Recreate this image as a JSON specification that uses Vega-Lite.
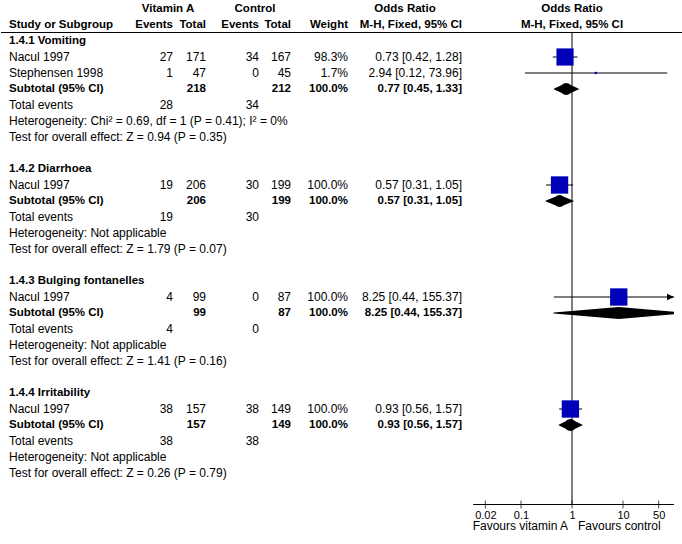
{
  "$schema": "https://vega.github.io/schema/vega-lite/v6.json",
  "background": "white",
  "padding": 0,
  "autosize": "pad",
  "bounds": "flush",
  "spacing": 0,
  "config": {
    "font": "Liberation Sans",
    "view": {"stroke": null},
    "text": {"fontSize": 12, "color": "black"},
    "rule": {"color": "black", "strokeWidth": 1}
  },
  "datasets": {
    "rows": [
      {"r": 1, "s": "Study or Subgroup", "ve": "Events", "vt": "Total", "ce": "Events", "ct": "Total", "w": "Weight", "o": "M-H, Fixed, 95% CI", "b": 1, "kind": "head"},
      {"r": 2, "s": "1.4.1 Vomiting", "b": 1, "kind": "group"},
      {"r": 3, "s": "Nacul 1997", "ve": 27, "vt": 171, "ce": 34, "ct": 167, "w": "98.3%", "o": "0.73 [0.42, 1.28]", "b": 0, "kind": "study", "est": 0.73, "lo": 0.42, "hi": 1.28, "wt": 98.3},
      {"r": 4, "s": "Stephensen 1998", "ve": 1, "vt": 47, "ce": 0, "ct": 45, "w": "1.7%", "o": "2.94 [0.12, 73.96]", "b": 0, "kind": "study", "est": 2.94, "lo": 0.12, "hi": 73.96, "wt": 1.7},
      {"r": 5, "s": "Subtotal (95% CI)", "vt": 218, "ct": 212, "w": "100.0%", "o": "0.77 [0.45, 1.33]", "b": 1, "kind": "sub", "est": 0.77, "lo": 0.45, "hi": 1.33},
      {"r": 6, "s": "Total events", "ve": 28, "ce": 34, "b": 0, "kind": "total"},
      {"r": 7, "s": "Heterogeneity: Chi² = 0.69, df = 1 (P = 0.41); I² = 0%", "b": 0, "kind": "het"},
      {"r": 8, "s": "Test for overall effect: Z = 0.94 (P = 0.35)", "b": 0, "kind": "test"},
      {"r": 10, "s": "1.4.2 Diarrhoea", "b": 1, "kind": "group"},
      {"r": 11, "s": "Nacul 1997", "ve": 19, "vt": 206, "ce": 30, "ct": 199, "w": "100.0%", "o": "0.57 [0.31, 1.05]", "b": 0, "kind": "study", "est": 0.57, "lo": 0.31, "hi": 1.05, "wt": 100},
      {"r": 12, "s": "Subtotal (95% CI)", "vt": 206, "ct": 199, "w": "100.0%", "o": "0.57 [0.31, 1.05]", "b": 1, "kind": "sub", "est": 0.57, "lo": 0.31, "hi": 1.05},
      {"r": 13, "s": "Total events", "ve": 19, "ce": 30, "b": 0, "kind": "total"},
      {"r": 14, "s": "Heterogeneity: Not applicable", "b": 0, "kind": "het"},
      {"r": 15, "s": "Test for overall effect: Z = 1.79 (P = 0.07)", "b": 0, "kind": "test"},
      {"r": 17, "s": "1.4.3 Bulging fontanelles", "b": 1, "kind": "group"},
      {"r": 18, "s": "Nacul 1997", "ve": 4, "vt": 99, "ce": 0, "ct": 87, "w": "100.0%", "o": "8.25 [0.44, 155.37]", "b": 0, "kind": "study", "est": 8.25, "lo": 0.44, "hi": 155.37, "wt": 100},
      {"r": 19, "s": "Subtotal (95% CI)", "vt": 99, "ct": 87, "w": "100.0%", "o": "8.25 [0.44, 155.37]", "b": 1, "kind": "sub", "est": 8.25, "lo": 0.44, "hi": 155.37},
      {"r": 20, "s": "Total events", "ve": 4, "ce": 0, "b": 0, "kind": "total"},
      {"r": 21, "s": "Heterogeneity: Not applicable", "b": 0, "kind": "het"},
      {"r": 22, "s": "Test for overall effect: Z = 1.41 (P = 0.16)", "b": 0, "kind": "test"},
      {"r": 24, "s": "1.4.4 Irritability", "b": 1, "kind": "group"},
      {"r": 25, "s": "Nacul 1997", "ve": 38, "vt": 157, "ce": 38, "ct": 149, "w": "100.0%", "o": "0.93 [0.56, 1.57]", "b": 0, "kind": "study", "est": 0.93, "lo": 0.56, "hi": 1.57, "wt": 100},
      {"r": 26, "s": "Subtotal (95% CI)", "vt": 157, "ct": 149, "w": "100.0%", "o": "0.93 [0.56, 1.57]", "b": 1, "kind": "sub", "est": 0.93, "lo": 0.56, "hi": 1.57},
      {"r": 27, "s": "Total events", "ve": 38, "ce": 38, "b": 0, "kind": "total"},
      {"r": 28, "s": "Heterogeneity: Not applicable", "b": 0, "kind": "het"},
      {"r": 29, "s": "Test for overall effect: Z = 0.26 (P = 0.79)", "b": 0, "kind": "test"}
    ],
    "one": [{"n": 1}],
    "ticks": [{"v": 0.02}, {"v": 0.1}, {"v": 1}, {"v": 10}, {"v": 50}]
  },
  "hconcat": [
    {
      "width": 469,
      "height": 505,
      "data": {"name": "rows"},
      "layer": [
        {"data": {"values": [{"r": 0, "t": "Vitamin A"}]}, "mark": {"type": "text", "align": "center", "fontWeight": "bold", "fontSize": 11.5},
         "encoding": {"x": {"value": 167}, "y": {"field": "r", "type": "quantitative", "scale": {"domain": [-0.5625, 31], "reverse": true, "nice": false, "zero": false}, "axis": null}, "text": {"field": "t"}}},
        {"data": {"values": [{"r": 0, "t": "Control"}]}, "mark": {"type": "text", "align": "center", "fontWeight": "bold", "fontSize": 11.5},
         "encoding": {"x": {"value": 254}, "y": {"field": "r", "type": "quantitative", "axis": null}, "text": {"field": "t"}}},
        {"data": {"values": [{"r": 0, "t": "Odds Ratio"}]}, "mark": {"type": "text", "align": "center", "fontWeight": "bold", "fontSize": 11.5},
         "encoding": {"x": {"value": 404}, "y": {"field": "r", "type": "quantitative", "axis": null}, "text": {"field": "t"}}},
        {"data": {"name": "one"}, "mark": {"type": "rule"}, "encoding": {"y": {"datum": 1.46875, "type": "quantitative", "axis": null}}},

        {"transform": [{"filter": "isValid(datum.s) && datum.b == 0"}], "mark": {"type": "text", "align": "left"},
         "encoding": {"x": {"value": 8}, "y": {"field": "r", "type": "quantitative", "axis": null}, "text": {"field": "s"}}},
        {"transform": [{"filter": "isValid(datum.s) && datum.b == 1"}], "mark": {"type": "text", "align": "left", "fontWeight": "bold", "fontSize": 11.5},
         "encoding": {"x": {"value": 8}, "y": {"field": "r", "type": "quantitative", "axis": null}, "text": {"field": "s"}}},

        {"transform": [{"filter": "isValid(datum.ve) && datum.b == 0"}], "mark": {"type": "text", "align": "right"},
         "encoding": {"x": {"value": 172}, "y": {"field": "r", "type": "quantitative", "axis": null}, "text": {"field": "ve"}}},
        {"transform": [{"filter": "isValid(datum.ve) && datum.b == 1"}], "mark": {"type": "text", "align": "right", "fontWeight": "bold", "fontSize": 11.5},
         "encoding": {"x": {"value": 172}, "y": {"field": "r", "type": "quantitative", "axis": null}, "text": {"field": "ve"}}},

        {"transform": [{"filter": "isValid(datum.vt) && datum.b == 0"}], "mark": {"type": "text", "align": "right"},
         "encoding": {"x": {"value": 205}, "y": {"field": "r", "type": "quantitative", "axis": null}, "text": {"field": "vt"}}},
        {"transform": [{"filter": "isValid(datum.vt) && datum.b == 1"}], "mark": {"type": "text", "align": "right", "fontWeight": "bold", "fontSize": 11.5},
         "encoding": {"x": {"value": 205}, "y": {"field": "r", "type": "quantitative", "axis": null}, "text": {"field": "vt"}}},

        {"transform": [{"filter": "isValid(datum.ce) && datum.b == 0"}], "mark": {"type": "text", "align": "right"},
         "encoding": {"x": {"value": 258}, "y": {"field": "r", "type": "quantitative", "axis": null}, "text": {"field": "ce"}}},
        {"transform": [{"filter": "isValid(datum.ce) && datum.b == 1"}], "mark": {"type": "text", "align": "right", "fontWeight": "bold", "fontSize": 11.5},
         "encoding": {"x": {"value": 258}, "y": {"field": "r", "type": "quantitative", "axis": null}, "text": {"field": "ce"}}},

        {"transform": [{"filter": "isValid(datum.ct) && datum.b == 0"}], "mark": {"type": "text", "align": "right"},
         "encoding": {"x": {"value": 290}, "y": {"field": "r", "type": "quantitative", "axis": null}, "text": {"field": "ct"}}},
        {"transform": [{"filter": "isValid(datum.ct) && datum.b == 1"}], "mark": {"type": "text", "align": "right", "fontWeight": "bold", "fontSize": 11.5},
         "encoding": {"x": {"value": 290}, "y": {"field": "r", "type": "quantitative", "axis": null}, "text": {"field": "ct"}}},

        {"transform": [{"filter": "isValid(datum.w) && datum.b == 0"}], "mark": {"type": "text", "align": "right"},
         "encoding": {"x": {"value": 347}, "y": {"field": "r", "type": "quantitative", "axis": null}, "text": {"field": "w"}}},
        {"transform": [{"filter": "isValid(datum.w) && datum.b == 1"}], "mark": {"type": "text", "align": "right", "fontWeight": "bold", "fontSize": 11.5},
         "encoding": {"x": {"value": 347}, "y": {"field": "r", "type": "quantitative", "axis": null}, "text": {"field": "w"}}},

        {"transform": [{"filter": "isValid(datum.o) && datum.b == 0"}], "mark": {"type": "text", "align": "right"},
         "encoding": {"x": {"value": 461}, "y": {"field": "r", "type": "quantitative", "axis": null}, "text": {"field": "o"}}},
        {"transform": [{"filter": "isValid(datum.o) && datum.b == 1"}], "mark": {"type": "text", "align": "right", "fontWeight": "bold", "fontSize": 11.5},
         "encoding": {"x": {"value": 461}, "y": {"field": "r", "type": "quantitative", "axis": null}, "text": {"field": "o"}}}
      ]
    },
    {
      "width": 204,
      "height": 505,
      "data": {"name": "rows"},
      "layer": [
        {"transform": [{"filter": "datum.kind == 'study'"}],
         "mark": {"type": "rule", "clip": true},
         "encoding": {
           "x": {"field": "lo", "type": "quantitative",
                 "scale": {"type": "log", "domain": [0.01, 100], "nice": false},
                 "axis": {"values": [0.02, 0.1, 1, 10, 50], "format": "~g", "title": null, "grid": false, "domain": false,
                          "ticks": false, "labelColor": "black", "labelFontSize": 11,
                          "labelFont": "Liberation Sans", "labelPadding": 4, "labelFlush": false, "labelOverlap": false}},
           "x2": {"field": "hi"},
           "y": {"field": "r", "type": "quantitative", "scale": {"domain": [-0.5625, 31], "reverse": true, "nice": false, "zero": false}, "axis": null}}},
        {"data": {"values": [{"r": 0, "t": "Odds Ratio"}, {"r": 1, "t": "M-H, Fixed, 95% CI"}]},
         "mark": {"type": "text", "align": "center", "fontWeight": "bold", "fontSize": 11.5},
         "encoding": {
           "x": {"datum": 1, "type": "quantitative"},
           "y": {"field": "r", "type": "quantitative", "axis": null},
           "text": {"field": "t"}}},
        {"data": {"name": "one"}, "mark": {"type": "rule"},
         "encoding": {
           "x": {"datum": 0.01, "type": "quantitative"},
           "x2": {"datum": 150},
           "y": {"datum": 1.46875, "type": "quantitative", "axis": null}}},
        {"data": {"name": "one"}, "mark": {"type": "rule"},
         "encoding": {
           "x": {"datum": 1, "type": "quantitative"},
           "y": {"datum": 1.46875, "type": "quantitative", "axis": null},
           "y2": {"datum": 30.97}}},
        {"data": {"name": "one"}, "mark": {"type": "rule"},
         "encoding": {
           "x": {"datum": 0.0115, "type": "quantitative"},
           "x2": {"datum": 100},
           "y": {"datum": 30.97, "type": "quantitative", "axis": null}}},
        {"data": {"name": "ticks"}, "mark": {"type": "tick", "orient": "vertical", "size": 8, "thickness": 1, "color": "black"},
         "encoding": {
           "x": {"field": "v", "type": "quantitative"},
           "y": {"datum": 30.97, "type": "quantitative", "axis": null}}},
        {"transform": [{"filter": "datum.kind == 'study'"}],
         "mark": {"type": "point", "shape": "square", "filled": true, "color": "#0000b8", "opacity": 1},
         "encoding": {
           "x": {"field": "est", "type": "quantitative"},
           "y": {"field": "r", "type": "quantitative", "axis": null},
           "size": {"field": "wt", "type": "quantitative", "scale": {"domain": [0, 100], "range": [0, 300], "zero": true}, "legend": null}}},
        {"transform": [{"filter": "datum.kind == 'study' && datum.hi > 100"}],
         "mark": {"type": "point", "shape": "M0,0L-1,-0.45L-1,0.45Z", "filled": true, "color": "black", "opacity": 1, "size": 196},
         "encoding": {
           "x": {"datum": 100, "type": "quantitative"},
           "y": {"field": "r", "type": "quantitative", "axis": null}}},
        {"transform": [{"filter": "datum.kind == 'sub'"}, {"fold": ["lo", "est", "hi"], "as": ["k", "v"]}],
         "mark": {"type": "trail", "color": "black", "clip": true},
         "encoding": {
           "x": {"field": "v", "type": "quantitative"},
           "y": {"field": "r", "type": "quantitative", "axis": null},
           "detail": {"field": "r", "type": "nominal"},
           "size": {"field": "k", "type": "ordinal", "scale": {"type": "ordinal", "domain": ["lo", "est", "hi"], "range": [0, 12, 0]}, "legend": null}}},
        {"data": {"name": "one"}, "mark": {"type": "text", "align": "right", "dx": -4, "text": "Favours vitamin A"},
         "encoding": {
           "x": {"datum": 1, "type": "quantitative"},
           "y": {"datum": 32.34, "type": "quantitative", "axis": null}}},
        {"data": {"name": "one"}, "mark": {"type": "text", "align": "left", "dx": 6, "text": "Favours control"},
         "encoding": {
           "x": {"datum": 1, "type": "quantitative"},
           "y": {"datum": 32.34, "type": "quantitative", "axis": null}}}
      ]
    }
  ]
}
